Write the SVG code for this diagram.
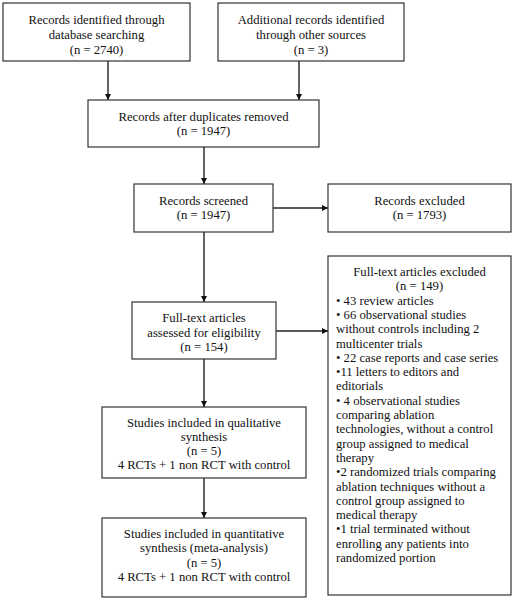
<svg xmlns="http://www.w3.org/2000/svg" width="515" height="600" viewBox="0 0 515 600">
<style>
.box{fill:#fff;stroke:#333;stroke-width:1.2}
text{font-family:"Liberation Serif","Times New Roman",serif;font-size:12.7px;fill:#111}
.c{text-anchor:middle}
.ln{stroke:#222;stroke-width:1.4;fill:none;marker-end:url(#ah)}
</style>
<defs>
<marker id="ah" viewBox="0 0 10 10" refX="10" refY="5" markerWidth="6" markerHeight="6" markerUnits="userSpaceOnUse" orient="auto">
<path d="M0,0 L10,5 L0,10 z" fill="#111"/>
</marker>
</defs>
<rect width="515" height="600" fill="#fff"/>
<g id="connectors">
<line class="ln" x1="108" y1="61" x2="108" y2="100"/>
<line class="ln" x1="299" y1="61" x2="299" y2="100"/>
<line class="ln" x1="204" y1="147" x2="204" y2="184"/>
<line class="ln" x1="273" y1="208" x2="328" y2="208"/>
<line class="ln" x1="204" y1="232" x2="204" y2="302"/>
<line class="ln" x1="276" y1="331" x2="328" y2="331"/>
<line class="ln" x1="204" y1="359" x2="204" y2="407"/>
<line class="ln" x1="204" y1="478" x2="204" y2="518"/>
</g>
<g id="n1">
<rect class="box" x="3" y="3" width="187" height="58"/>
<text class="c" x="96.5" y="24">Records identified through</text>
<text class="c" x="96.5" y="39">database searching</text>
<text class="c" x="96.5" y="54">(n = 2740)</text>
</g>
<g id="n2">
<rect class="box" x="218" y="3" width="186" height="58"/>
<text class="c" x="311" y="24">Additional records identified</text>
<text class="c" x="311" y="39">through other sources</text>
<text class="c" x="311" y="54">(n = 3)</text>
</g>
<g id="n3">
<rect class="box" x="88" y="100" width="231" height="47"/>
<text class="c" x="203.5" y="121">Records after duplicates removed</text>
<text class="c" x="203.5" y="135">(n = 1947)</text>
</g>
<g id="n4">
<rect class="box" x="134" y="184" width="139" height="48"/>
<text class="c" x="203.5" y="205">Records screened</text>
<text class="c" x="203.5" y="219">(n = 1947)</text>
</g>
<g id="n5">
<rect class="box" x="328" y="184" width="183" height="48"/>
<text class="c" x="419.5" y="205">Records excluded</text>
<text class="c" x="419.5" y="219">(n = 1793)</text>
</g>
<g id="n6">
<rect class="box" x="132" y="302" width="144" height="57"/>
<text class="c" x="204" y="322">Full-text articles</text>
<text class="c" x="204" y="337">assessed for eligibility</text>
<text class="c" x="204" y="351">(n = 154)</text>
</g>
<g id="n7">
<rect class="box" x="328" y="256" width="183" height="339"/>
<text class="c" x="419.5" y="276">Full-text articles excluded</text>
<text class="c" x="419.5" y="290.3">(n = 149)</text>
<text x="336" y="304.6">• 43 review articles</text>
<text x="336" y="318.9">• 66 observational studies</text>
<text x="336" y="333.2">without controls including 2</text>
<text x="336" y="347.5">multicenter trials</text>
<text x="336" y="361.8">• 22 case reports and case series</text>
<text x="336" y="376.1">•11 letters to editors and</text>
<text x="336" y="390.4">editorials</text>
<text x="336" y="404.7">• 4 observational studies</text>
<text x="336" y="419">comparing ablation</text>
<text x="336" y="433.3">technologies, without a control</text>
<text x="336" y="447.6">group assigned to medical</text>
<text x="336" y="461.9">therapy</text>
<text x="336" y="476.2">•2 randomized trials comparing</text>
<text x="336" y="490.5">ablation techniques without a</text>
<text x="336" y="504.8">control group assigned to</text>
<text x="336" y="519.1">medical therapy</text>
<text x="336" y="533.4">•1 trial terminated without</text>
<text x="336" y="547.7">enrolling any patients into</text>
<text x="336" y="562">randomized portion</text>
</g>
<g id="n8">
<rect class="box" x="102" y="407" width="204" height="71"/>
<text class="c" x="204" y="427">Studies included in qualitative</text>
<text class="c" x="204" y="441">synthesis</text>
<text class="c" x="204" y="455">(n = 5)</text>
<text class="c" x="204" y="469">4 RCTs + 1 non RCT with control</text>
</g>
<g id="n9">
<rect class="box" x="102" y="518" width="204" height="79"/>
<text class="c" x="204" y="538">Studies included in quantitative</text>
<text class="c" x="204" y="552">synthesis (meta-analysis)</text>
<text class="c" x="204" y="567">(n = 5)</text>
<text class="c" x="204" y="581">4 RCTs + 1 non RCT with control</text>
</g>
</svg>
